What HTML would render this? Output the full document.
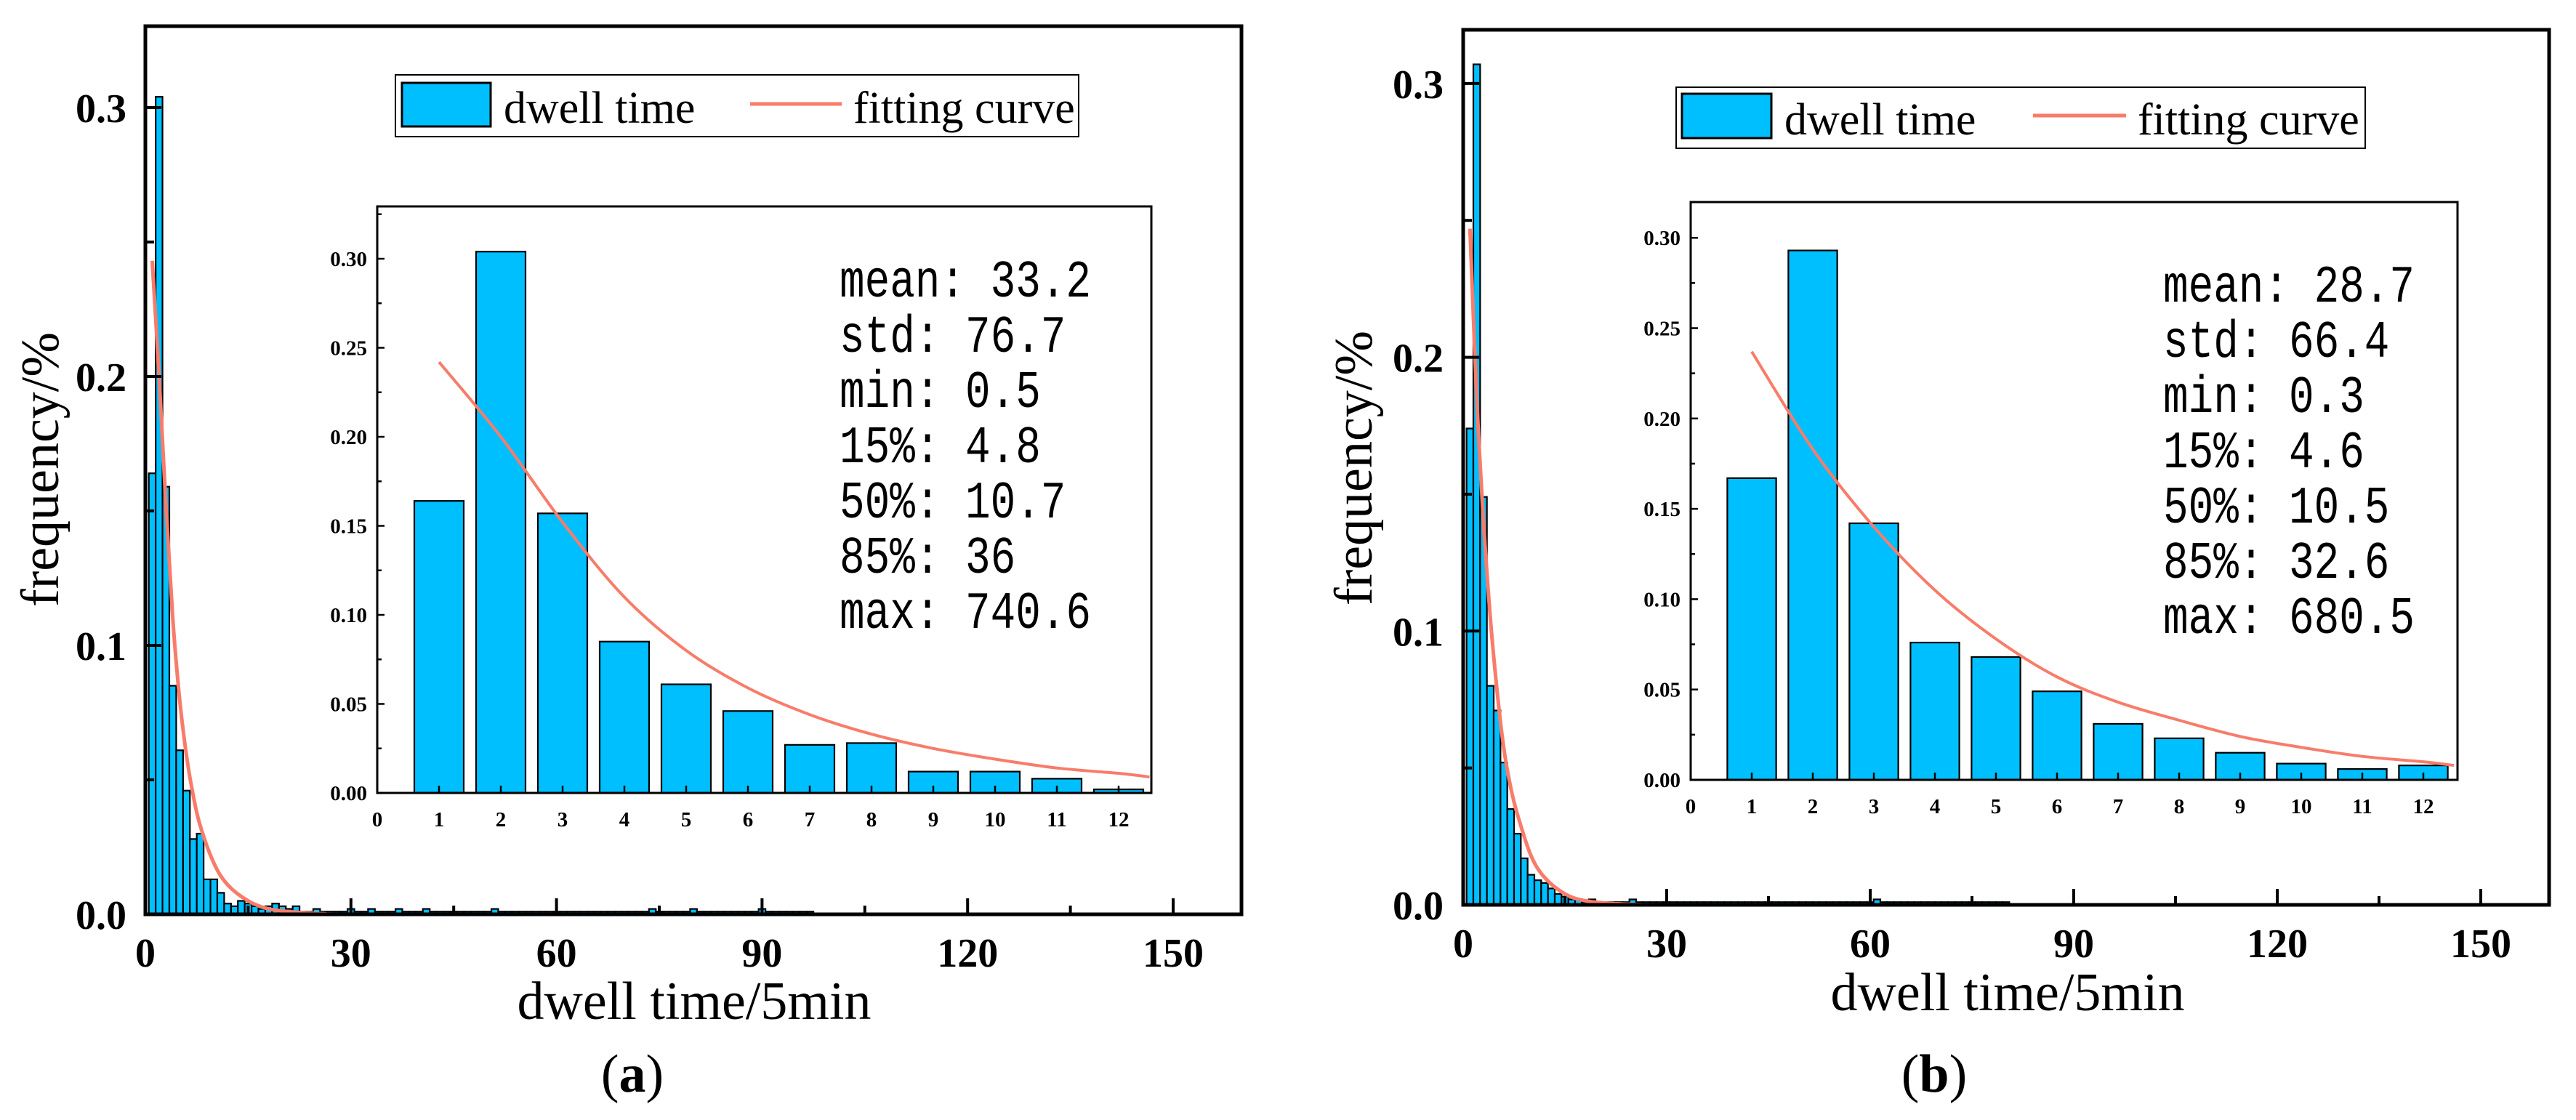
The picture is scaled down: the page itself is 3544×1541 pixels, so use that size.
<!DOCTYPE html>
<html><head><meta charset="utf-8">
<style>
html,body{margin:0;padding:0;background:#fff;}
svg{display:block;}
</style></head>
<body>
<svg id="fig" width="3544" height="1541" viewBox="0 0 3544 1541" xmlns="http://www.w3.org/2000/svg">
<rect x="0" y="0" width="3544" height="1541" fill="#fff"/>
</svg>
<script>
// ---------- data ----------
const mainTicksX = [0, 30, 60, 90, 120, 150];
const mainTickLabelsY = ["0.0", "0.1", "0.2", "0.3"];
const insetTickLabelsX = ["0","1","2","3","4","5","6","7","8","9","10","11","12"];
const insetTickLabelsY = ["0.00","0.05","0.10","0.15","0.20","0.25","0.30"];

const insetBarsA = [0.164, 0.304, 0.157, 0.085, 0.061, 0.046, 0.027, 0.028, 0.012, 0.012, 0.008, 0.002];
const insetBarsB = [0.167, 0.293, 0.142, 0.076, 0.068, 0.049, 0.031, 0.023, 0.015, 0.009, 0.006, 0.008];

const mainBarsA = [0.164, 0.304, 0.159, 0.085, 0.061, 0.046, 0.028, 0.030, 0.013, 0.013, 0.008, 0.004, 0.003, 0.005, 0.004, 0.003, 0.002, 0.003, 0.004, 0.003, 0.002, 0.003, 0.001, 0.001, 0.002, 0.001, 0.001, 0.001, 0.001, 0.002, 0.001, 0.001, 0.002, 0.001, 0.001, 0.001, 0.002, 0.001, 0.001, 0.001, 0.002, 0.001, 0.001, 0.001, 0.001, 0.001, 0.001, 0.001, 0.001, 0.001, 0.002, 0.001, 0.001, 0.001, 0.001, 0.001, 0.001, 0.001, 0.001, 0.001, 0.001, 0.001, 0.001, 0.001, 0.001, 0.001, 0.001, 0.001, 0.001, 0.001, 0.001, 0.001, 0.001, 0.002, 0.001, 0.001, 0.001, 0.001, 0.001, 0.002, 0.001, 0.001, 0.001, 0.001, 0.001, 0.001, 0.001, 0.001, 0.001, 0.002, 0.001, 0.001, 0.001, 0.001, 0.001, 0.001, 0.001];
const mainBarsB = [0.174, 0.307, 0.149, 0.080, 0.071, 0.052, 0.035, 0.026, 0.017, 0.011, 0.009, 0.008, 0.006, 0.004, 0.003, 0.002, 0.002, 0.001, 0.002, 0.001, 0.001, 0.001, 0.001, 0.001, 0.002, 0.001, 0.001, 0.001, 0.001, 0.001, 0.001, 0.001, 0.001, 0.001, 0.001, 0.001, 0.001, 0.001, 0.001, 0.001, 0.001, 0.001, 0.001, 0.001, 0.001, 0.001, 0.001, 0.001, 0.001, 0.001, 0.001, 0.001, 0.001, 0.001, 0.001, 0.001, 0.001, 0.001, 0.001, 0.001, 0.002, 0.001, 0.001, 0.001, 0.001, 0.001, 0.001, 0.001, 0.001, 0.001, 0.001, 0.001, 0.001, 0.001, 0.001, 0.001, 0.001, 0.001, 0.001, 0.001];

const curveX = [1, 2, 3, 4, 5, 6, 7, 8, 9, 10, 11, 12, 12.5];
const curveA = [0.242, 0.200, 0.152, 0.110, 0.080, 0.059, 0.044, 0.033, 0.025, 0.019, 0.014, 0.011, 0.009];
const curveB = [0.237, 0.183, 0.140, 0.105, 0.078, 0.057, 0.043, 0.033, 0.024, 0.018, 0.013, 0.010, 0.008];
const mainCurveX = [1, 2, 3, 4, 5, 6, 7, 8, 10, 12, 15, 18, 22, 26, 30, 60, 100, 147];
const mainCurveA = [0.243, 0.200, 0.152, 0.110, 0.080, 0.059, 0.044, 0.033, 0.019, 0.011, 0.005, 0.002, 0.0008, 0.0002, 0, 0, 0, 0];
const mainCurveB = [0.247, 0.185, 0.140, 0.105, 0.078, 0.057, 0.043, 0.033, 0.018, 0.010, 0.004, 0.0015, 0.0005, 0.0001, 0, 0, 0, 0];

const statsA = ["mean: 33.2", "std: 76.7", "min: 0.5", "15%: 4.8", "50%: 10.7", "85%: 36", "max: 740.6"];
const statsB = ["mean: 28.7", "std: 66.4", "min: 0.3", "15%: 4.6", "50%: 10.5", "85%: 32.6", "max: 680.5"];

// ---------- layout ----------
const panels = [
  {id:"a", frame:{l:200,t:36,r:1708,b:1258}, x0:200, pxPer:282.8/30, y0:1258, pyPer:3700,
   legend:{l:544,t:103,r:1484,b:188, pl:553,pt:114,pr:675,pb:174, tx:693, ty:169, l1:1032, l2:1158, ly:143, fx:1174},
   inset:{l:519,t:284,r:1584,b:1091, x0:519, pxPer:85, pyPer:2450},
   statsPos:{x:1155, y:408, dy:76},
   xtitle:{x:955,y:1402}, ytitle:{x:80,y:646}, tag:{x:870,y:1502}, ylabR:174,
   mainBars:mainBarsA, insetBars:insetBarsA, curve:curveA, mainCurve:mainCurveA, stats:statsA, mainCurveEnd:147},
  {id:"b", frame:{l:2013,t:41,r:3507,b:1245}, x0:2013, pxPer:280/30, y0:1245, pyPer:3767,
   legend:{l:2306,t:120,r:3254,b:204, pl:2314,pt:129,pr:2437,pb:190, tx:2455, ty:185, l1:2797, l2:2925, ly:159, fx:2941},
   inset:{l:2326,t:278,r:3381,b:1073, x0:2326, pxPer:84, pyPer:2486},
   statsPos:{x:2976, y:415, dy:76},
   xtitle:{x:2762,y:1390}, ytitle:{x:1887,y:644}, tag:{x:2661,y:1502}, ylabR:1986,
   mainBars:mainBarsB, insetBars:insetBarsB, curve:curveB, mainCurve:mainCurveB, stats:statsB, mainCurveEnd:160}
];

const NS = "http://www.w3.org/2000/svg";
const svg = document.getElementById("fig");
function mk(tag, attrs, parent){
  const e = document.createElementNS(NS, tag);
  for (const k in attrs) e.setAttribute(k, attrs[k]);
  (parent||svg).appendChild(e);
  return e;
}
function smooth(pts){
  let d = "M" + pts[0][0].toFixed(1) + "," + pts[0][1].toFixed(1);
  for (let i=0;i<pts.length-1;i++){
    const p0=pts[Math.max(0,i-1)], p1=pts[i], p2=pts[i+1], p3=pts[Math.min(pts.length-1,i+2)];
    const c1=[p1[0]+(p2[0]-p0[0])/6, p1[1]+(p2[1]-p0[1])/6];
    const c2=[p2[0]-(p3[0]-p1[0])/6, p2[1]-(p3[1]-p1[1])/6];
    d += " C"+c1[0].toFixed(1)+","+c1[1].toFixed(1)+" "+c2[0].toFixed(1)+","+c2[1].toFixed(1)+" "+p2[0].toFixed(1)+","+p2[1].toFixed(1);
  }
  return d;
}
const serif = '"Liberation Serif", serif';

panels.forEach(P => {
  const g = mk("g", {});
  
  
  const X = v => P.x0 + v * P.pxPer;
  const Y = v => P.y0 - v * P.pyPer;
  const F = P.frame;

  const cp = mk("clipPath", {id:"clip"+P.id}, g);
  mk("rect", {x:F.l, y:F.t, width:F.r-F.l, height:F.b-F.t}, cp);

  const bars = mk("g", {"clip-path":"url(#clip"+P.id+")"}, g);
  
  
  P.mainBars.forEach((v,i) => {
    const c = i + 1;
    const r = mk("rect", {x:X(c-0.5), y:Y(v), width:P.pxPer, height:Y(0)-Y(v), fill:"#00BFFF", stroke:"#000", "stroke-width":2.2}, bars);
    
    
  });
  const mpts = mainCurveX.filter(x=>x<=P.mainCurveEnd).map((x,i)=>[X(x), Y(P.mainCurve[i])]);
  const mc = mk("path", {d:smooth(mpts), fill:"none", stroke:"#F87C6A", "stroke-width":5, "clip-path":"url(#clip"+P.id+")"}, g);
  
  

  const fr = mk("rect", {x:F.l, y:F.t, width:F.r-F.l, height:F.b-F.t, fill:"none", stroke:"#000", "stroke-width":5}, g);
  
  

  for (let k=0;k<=6;k++){
    const v = k*0.05;
    const len = (k%2===0)?22:12;
    mk("line", {x1:F.l, x2:F.l+len, y1:Y(v), y2:Y(v), stroke:"#000", "stroke-width":4}, g);
  }
  mainTickLabelsY.forEach((lab,i) => {
    const t = mk("text", {x:P.ylabR, y:Y(i*0.1)+20, "text-anchor":"end", "font-family":serif, "font-weight":"bold", "font-size":56}, g);
    t.textContent = lab;
    
    
  });
  for (let v=0; v<=150; v+=15){
    const len = (v%30===0)?22:12;
    mk("line", {x1:X(v), x2:X(v), y1:F.b, y2:F.b-len, stroke:"#000", "stroke-width":4}, g);
  }
  mainTicksX.forEach(v => {
    const t = mk("text", {x:X(v), y:F.b+72, "text-anchor":"middle", "font-family":serif, "font-weight":"bold", "font-size":56}, g);
    t.textContent = String(v);
    
    
  });
  const xt = mk("text", {x:P.xtitle.x, y:P.xtitle.y, "text-anchor":"middle", "font-family":serif, "font-size":74}, g);
  xt.textContent = "dwell time/5min";
  
  
  const yt = mk("text", {x:0, y:0, "text-anchor":"middle", "font-family":serif, "font-size":74, transform:"translate("+P.ytitle.x+","+P.ytitle.y+") rotate(-90)"}, g);
  yt.textContent = "frequency/%";
  
  
  const tg = mk("text", {x:P.tag.x, y:P.tag.y, "text-anchor":"middle", "font-family":serif, "font-size":74}, g);
  tg.innerHTML = '(<tspan font-weight="bold">'+P.id+'</tspan>)';
  
  

  const L = P.legend;
  const lg = mk("g", {}, g);
  
  
  mk("rect", {x:L.l, y:L.t, width:L.r-L.l, height:L.b-L.t, fill:"#fff", stroke:"#000", "stroke-width":2}, lg);
  const lp = mk("rect", {x:L.pl, y:L.pt, width:L.pr-L.pl, height:L.pb-L.pt, fill:"#00BFFF", stroke:"#000", "stroke-width":3}, lg);
  
  
  const lt1 = mk("text", {x:L.tx, y:L.ty, "font-family":serif, "font-size":62}, lg);
  lt1.textContent = "dwell time";
  const ll = mk("line", {x1:L.l1, x2:L.l2, y1:L.ly, y2:L.ly, stroke:"#F87C6A", "stroke-width":5}, lg);
  
  
  const lt2 = mk("text", {x:L.fx, y:L.ty, "font-family":serif, "font-size":62}, lg);
  lt2.textContent = "fitting curve";

  const I = P.inset;
  const IX = v => I.x0 + v * I.pxPer;
  const IY = v => I.b - v * I.pyPer;
  const ig = mk("g", {}, g);
  
  
  mk("rect", {x:I.l, y:I.t, width:I.r-I.l, height:I.b-I.t, fill:"#fff"}, ig);
  P.insetBars.forEach((v,i) => {
    const c = i+1;
    const r = mk("rect", {x:IX(c-0.4), y:IY(v), width:0.8*I.pxPer, height:IY(0)-IY(v), fill:"#00BFFF", stroke:"#000", "stroke-width":2.2}, ig);
    
    
  });
  const ipts = curveX.map((x,i)=>[IX(x), IY(P.curve[i])]);
  const ic = mk("path", {d:smooth(ipts), fill:"none", stroke:"#F87C6A", "stroke-width":4}, ig);
  
  
  mk("rect", {x:I.l, y:I.t, width:I.r-I.l, height:I.b-I.t, fill:"none", stroke:"#000", "stroke-width":3}, ig);
  for (let k=0;k<=13;k++){
    const v = k*0.025;
    if (IY(v) < I.t) continue;
    const len = (k%2===0)?10:6;
    mk("line", {x1:I.l, x2:I.l+len, y1:IY(v), y2:IY(v), stroke:"#000", "stroke-width":2.5}, ig);
  }
  insetTickLabelsY.forEach((lab,i) => {
    const t = mk("text", {x:I.l-14, y:IY(i*0.05)+10, "text-anchor":"end", "font-family":serif, "font-weight":"bold", "font-size":29}, ig);
    t.textContent = lab;
    
    
  });
  insetTickLabelsX.forEach((lab,i) => {
    mk("line", {x1:IX(i), x2:IX(i), y1:I.b, y2:I.b-10, stroke:"#000", "stroke-width":2.5}, ig);
    const t = mk("text", {x:IX(i), y:I.b+46, "text-anchor":"middle", "font-family":serif, "font-weight":"bold", "font-size":29}, ig);
    t.textContent = lab;
    
    
  });
  P.stats.forEach((s,i) => {
    const t = mk("text", {x:P.statsPos.x, y:P.statsPos.y + i*P.statsPos.dy, "font-family":'"Liberation Mono", monospace', "font-size":72, textLength:(s.length*34.6).toFixed(1), lengthAdjust:"spacingAndGlyphs"}, ig);
    t.textContent = s;
    
    
  });
});
</script>
</body></html>
